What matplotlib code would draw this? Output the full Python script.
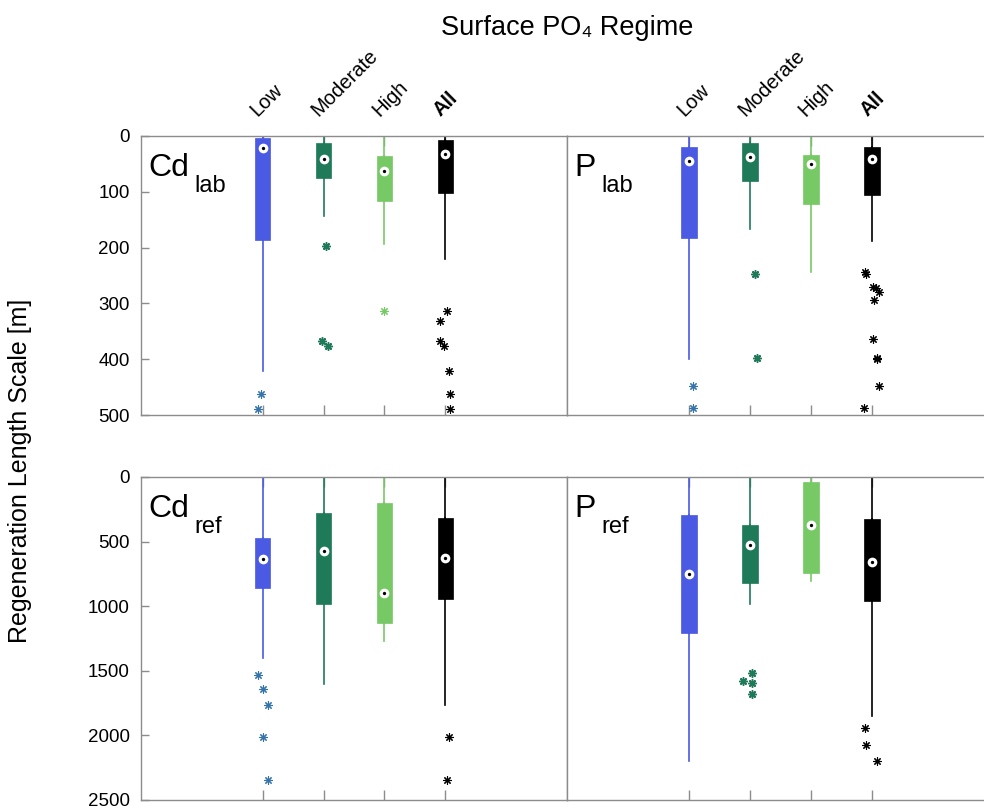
import matplotlib
matplotlib.use('Agg')
import matplotlib.pyplot as plt
import matplotlib.transforms as mtransforms

plt.rcParams['font.family'] = ['Liberation Sans', 'DejaVu Sans']

# categories and colours
regimes = ['Low', 'Moderate', 'High', 'All']
positions = [2, 3, 4, 5]
box_colors = ['#4a5ae3', '#1f7a5a', '#77c966', '#000000']
flier_colors = ['#3474a8', '#1f7a5a', '#77c966', '#000000']

# box stats: q1, median, q3, lower whisker end
# upper whiskers all run to 0 (top of axes)
cd_lab_q1 = [4, 12, 36, 8]
cd_lab_med = [22, 41, 62, 33]
cd_lab_q3 = [186, 75, 116, 102]
cd_lab_whislo = [421, 143, 194, 221]
cd_lab_out = [[462, 489], [198, 368, 376], [314],
              [314, 332, 368, 376, 421, 462, 489]]
cd_lab_jit = [[-0.02, -0.07], [0.04, -0.02, 0.08], [0.0],
              [0.02, -0.09, -0.09, -0.02, 0.06, 0.08, 0.08]]

p_lab_q1 = [19, 13, 34, 20]
p_lab_med = [45, 37, 50, 41]
p_lab_q3 = [182, 80, 121, 105]
p_lab_whislo = [400, 166, 244, 188]
p_lab_out = [[448, 488], [248, 398], [],
             [244, 247, 270, 272, 280, 294, 363, 398, 400, 448, 487]]
p_lab_jit = [[0.07, 0.06], [0.09, 0.12], [],
             [-0.11, -0.1, 0.02, 0.07, 0.11, 0.04, 0.02, 0.08, 0.09, 0.12, -0.13]]

cd_ref_q1 = [472, 276, 199, 320]
cd_ref_med = [635, 570, 898, 625]
cd_ref_q3 = [859, 980, 1128, 947]
cd_ref_whislo = [1403, 1605, 1272, 1765]
cd_ref_out = [[1535, 1644, 1768, 2012, 2345], [], [], [2012, 2345]]
cd_ref_jit = [[-0.08, 0.0, 0.09, 0.01, 0.08], [], [], [0.065, 0.02]]

p_ref_q1 = [297, 372, 41, 325]
p_ref_med = [753, 526, 372, 655]
p_ref_q3 = [1210, 821, 740, 960]
p_ref_whislo = [2195, 985, 802, 1847]
p_ref_out = [[], [1519, 1579, 1597, 1677], [], [1940, 2074, 2200]]
p_ref_jit = [[], [0.04, -0.11, 0.03, 0.03], [], [-0.12, -0.1, 0.09]]

panels = [
    ('Cd', 'lab', cd_lab_q1, cd_lab_med, cd_lab_q3, cd_lab_whislo, cd_lab_out, cd_lab_jit),
    ('P', 'lab', p_lab_q1, p_lab_med, p_lab_q3, p_lab_whislo, p_lab_out, p_lab_jit),
    ('Cd', 'ref', cd_ref_q1, cd_ref_med, cd_ref_q3, cd_ref_whislo, cd_ref_out, cd_ref_jit),
    ('P', 'ref', p_ref_q1, p_ref_med, p_ref_q3, p_ref_whislo, p_ref_out, p_ref_jit),
]

fig = plt.figure(figsize=(9.84, 8.10), dpi=100)
W, H = 984, 810
rects = [(141, 136, 426, 279), (567, 136, 427, 279),
         (141, 477, 426, 323), (567, 477, 427, 323)]
spine_col = '#8c8c8c'

for i, (name, sub, q1, med, q3, wlo, outs, jits) in enumerate(panels):
    x0, y0, w, h = rects[i]
    ax = fig.add_axes([x0 / W, 1 - (y0 + h) / H, w / W, h / H])
    top = i < 2
    stats = []
    for k in range(4):
        stats.append(dict(q1=q1[k], med=med[k], q3=q3[k], whislo=wlo[k],
                          whishi=0, fliers=[]))
    bp = ax.bxp(stats, positions=positions, widths=0.25, patch_artist=True,
                showcaps=False, showfliers=False, manage_ticks=False)
    for k, b in enumerate(bp['boxes']):
        b.set_facecolor(box_colors[k])
        b.set_edgecolor(box_colors[k])
        b.set_linewidth(0.5)
        b.set_zorder(3)
    for k, wl in enumerate(bp['whiskers']):
        wl.set_color(box_colors[k // 2])
        wl.set_linewidth(1.2)
        wl.set_zorder(2)
    for m in bp['medians']:
        m.set_visible(False)
    # medians: white circle with black dot
    ax.plot(positions, med, 'o', ms=7, mfc='white', mec='white', mew=0, zorder=4)
    ax.plot(positions, med, 'o', ms=2.4, mfc='black', mec='black', mew=0, zorder=5)
    # outliers
    for k in range(4):
        xs = [positions[k] + j for j in jits[k]]
        mew = 1.1 if k == 1 else 0.8
        ax.plot(xs, outs[k], linestyle='none', marker=(8, 2, 0), ms=6,
                mec=flier_colors[k], mfc=flier_colors[k], mew=mew, zorder=4,
                clip_on=False)

    ax.set_xlim(0, 7)
    if top:
        ax.set_ylim(500, 0)
        ax.set_yticks([0, 100, 200, 300, 400, 500])
    else:
        ax.set_ylim(2500, 0)
        ax.set_yticks([0, 500, 1000, 1500, 2000, 2500])
    ax.set_xticks(positions)
    ax.set_xticklabels([])
    ax.tick_params(axis='x', direction='in', length=7, width=1, color=spine_col,
                   top=True, bottom=True)
    if i % 2 == 0:
        ax.tick_params(axis='y', direction='in', length=6, width=1, color=spine_col,
                       labelsize=13.5, pad=8, left=True, right=False)
    else:
        ax.tick_params(axis='y', left=False, right=False, labelleft=False)
    for s in ax.spines.values():
        s.set_color(spine_col)
        s.set_linewidth(1)

    if top:
        for k, lab in enumerate(regimes):
            tr = mtransforms.offset_copy(ax.get_xaxis_transform(), fig=fig,
                                         x=-5, y=19, units='dots')
            ax.text(positions[k], 1, lab, transform=tr, rotation=45,
                    rotation_mode='anchor', ha='left', va='baseline',
                    fontsize=14.5, fontweight='bold' if lab == 'All' else 'normal')

    # panel label with big subscript
    tr = mtransforms.offset_copy(ax.transAxes, fig=fig, x=7, y=-40, units='dots')
    t = ax.text(0, 1, name, transform=tr, fontsize=23, ha='left', va='baseline')
    ax.annotate(sub, xy=(1, 0), xycoords=t, xytext=(6, -9),
                textcoords='offset pixels', fontsize=17, ha='left', va='baseline')

fig.text(567 / W, 1 - 28 / H, 'Surface PO\u2084 Regime', fontsize=19.5,
         ha='center', va='center')
fig.text(20 / W, 1 - 471 / H, 'Regeneration Length Scale [m]', fontsize=18,
         rotation=90, ha='center', va='center')

fig.savefig('out.png', dpi=100)
